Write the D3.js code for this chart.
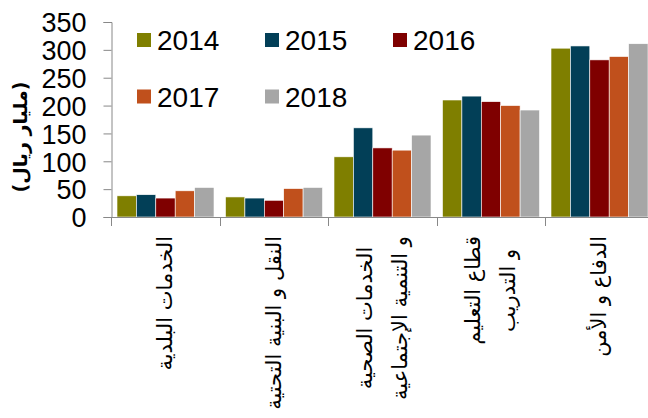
<!DOCTYPE html>
<html>
<head>
<meta charset="utf-8">
<script src="https://cdn.jsdelivr.net/npm/d3@7"></script>
<style>
  body { margin: 0; background: #fff; }
  svg { display: block; font-family: "Liberation Sans", Arial, sans-serif; }
</style>
</head>
<body>
<div id="chart"></div>
<script>
const categories = [
    ["الخدمات البلدية"],
    ["النقل و البنية التحتية"],
    ["الخدمات الصحية", "و التنمية الإجتماعية"],
    ["قطاع التعليم", "و التدريب"],
    ["الدفاع و الأمن"]
];
const years = ["2014", "2015", "2016", "2017", "2018"];
const values2014 = [38, 36, 108, 210, 303];
const values2015 = [40, 34, 160, 217, 307];
const values2016 = [34, 30, 124, 207, 282];
const values2017 = [47, 51, 120, 200, 288];
const values2018 = [53, 53, 147, 192, 311];
const yTicks = [0, 50, 100, 150, 200, 250, 300, 350];

const series = [values2014, values2015, values2016, values2017, values2018];
const colors = ["#7f7f00", "#023f57", "#7f0000", "#c0501c", "#a6a6a6"];

const width = 648;
const height = 418;

const svg = d3.select("#chart")
    .append("svg")
    .attr("width", width)
    .attr("height", height);

const catIndex = categories.map((c, i) => i);

const x0 = d3.scaleBand()
    .domain(catIndex)
    .range([111, 653.5]);

const x1 = d3.scaleBand()
    .domain(years)
    .range([6, 103]);

const y = d3.scaleLinear()
    .domain([0, 350])
    .range([217, 22]);

// bars
const groups = svg.selectAll("g.group")
    .data(catIndex)
    .enter().append("g")
    .attr("class", "group")
    .attr("transform", i => `translate(${x0(i)},0)`);

groups.selectAll("rect")
    .data(i => years.map((yr, k) => ({ yr, v: series[k][i], k })))
    .enter().append("rect")
    .attr("x", d => x1(d.yr))
    .attr("width", x1.bandwidth())
    .attr("y", d => y(d.v))
    .attr("height", d => y(0) - y(d.v))
    .attr("fill", d => colors[d.k])
    .attr("stroke", "#ffffff")
    .attr("stroke-width", 0.6);

// y axis
const yAxis = svg.append("g")
    .attr("transform", "translate(111.5,0)")
    .call(d3.axisLeft(y).tickValues(yTicks).tickSize(8).tickPadding(17));
yAxis.select(".domain").attr("stroke", "#888");
yAxis.selectAll(".tick line").attr("stroke", "#888");
yAxis.selectAll("text")
    .attr("font-size", "27px")
    .attr("font-family", "Liberation Sans, Arial, sans-serif")
    .attr("fill", "#000")
    .attr("dy", "0.36em");

// x axis
const xAxisG = svg.append("g");
xAxisG.append("line")
    .attr("x1", 111).attr("x2", width)
    .attr("y1", 217.5).attr("y2", 217.5)
    .attr("stroke", "#888");
xAxisG.selectAll("line.tick")
    .data(catIndex)
    .enter().append("line")
    .attr("class", "tick")
    .attr("x1", i => Math.round(x0(i)) + 0.5)
    .attr("x2", i => Math.round(x0(i)) + 0.5)
    .attr("y1", 217)
    .attr("y2", 226)
    .attr("stroke", "#888");

// category labels, rotated
const labelTop = 236;
const lineGap = 35;
categories.forEach((lines, i) => {
    const cx = x0(i) + x0.bandwidth() / 2;
    const g = svg.append("g")
        .attr("transform", `translate(${cx},0) rotate(-90)`);
    const texts = lines.map((t, j) => g.append("text")
        .attr("font-family", "DejaVu Sans, sans-serif")
        .attr("font-size", "21px")
        .attr("text-anchor", "middle")
        .attr("dominant-baseline", "central")
        .attr("y", (j - (lines.length - 1) / 2) * lineGap)
        .text(t));
    const maxLen = d3.max(texts, t => t.node().getComputedTextLength());
    texts.forEach(t => t.attr("x", -(labelTop + maxLen / 2)));
});

// y axis title
svg.append("text")
    .attr("transform", "translate(20,137) rotate(-90)")
    .attr("text-anchor", "middle")
    .attr("dominant-baseline", "central")
    .attr("font-family", "DejaVu Sans, sans-serif")
    .attr("font-size", "19px")
    .attr("font-weight", "bold")
    .text("(مليار ريال)");

// legend
const legend = svg.append("g");
years.forEach((yr, k) => {
    const col = k % 3;
    const row = Math.floor(k / 3);
    const lx = 137 + col * 128;
    const ly = 40 + row * 56.5;
    legend.append("rect")
        .attr("x", lx)
        .attr("y", ly - 7)
        .attr("width", 14)
        .attr("height", 14)
        .attr("fill", colors[k]);
    legend.append("text")
        .attr("x", lx + 20)
        .attr("y", ly)
        .attr("dy", "0.36em")
        .attr("font-size", "28px")
        .text(yr);
});
</script>
</body>
</html>
